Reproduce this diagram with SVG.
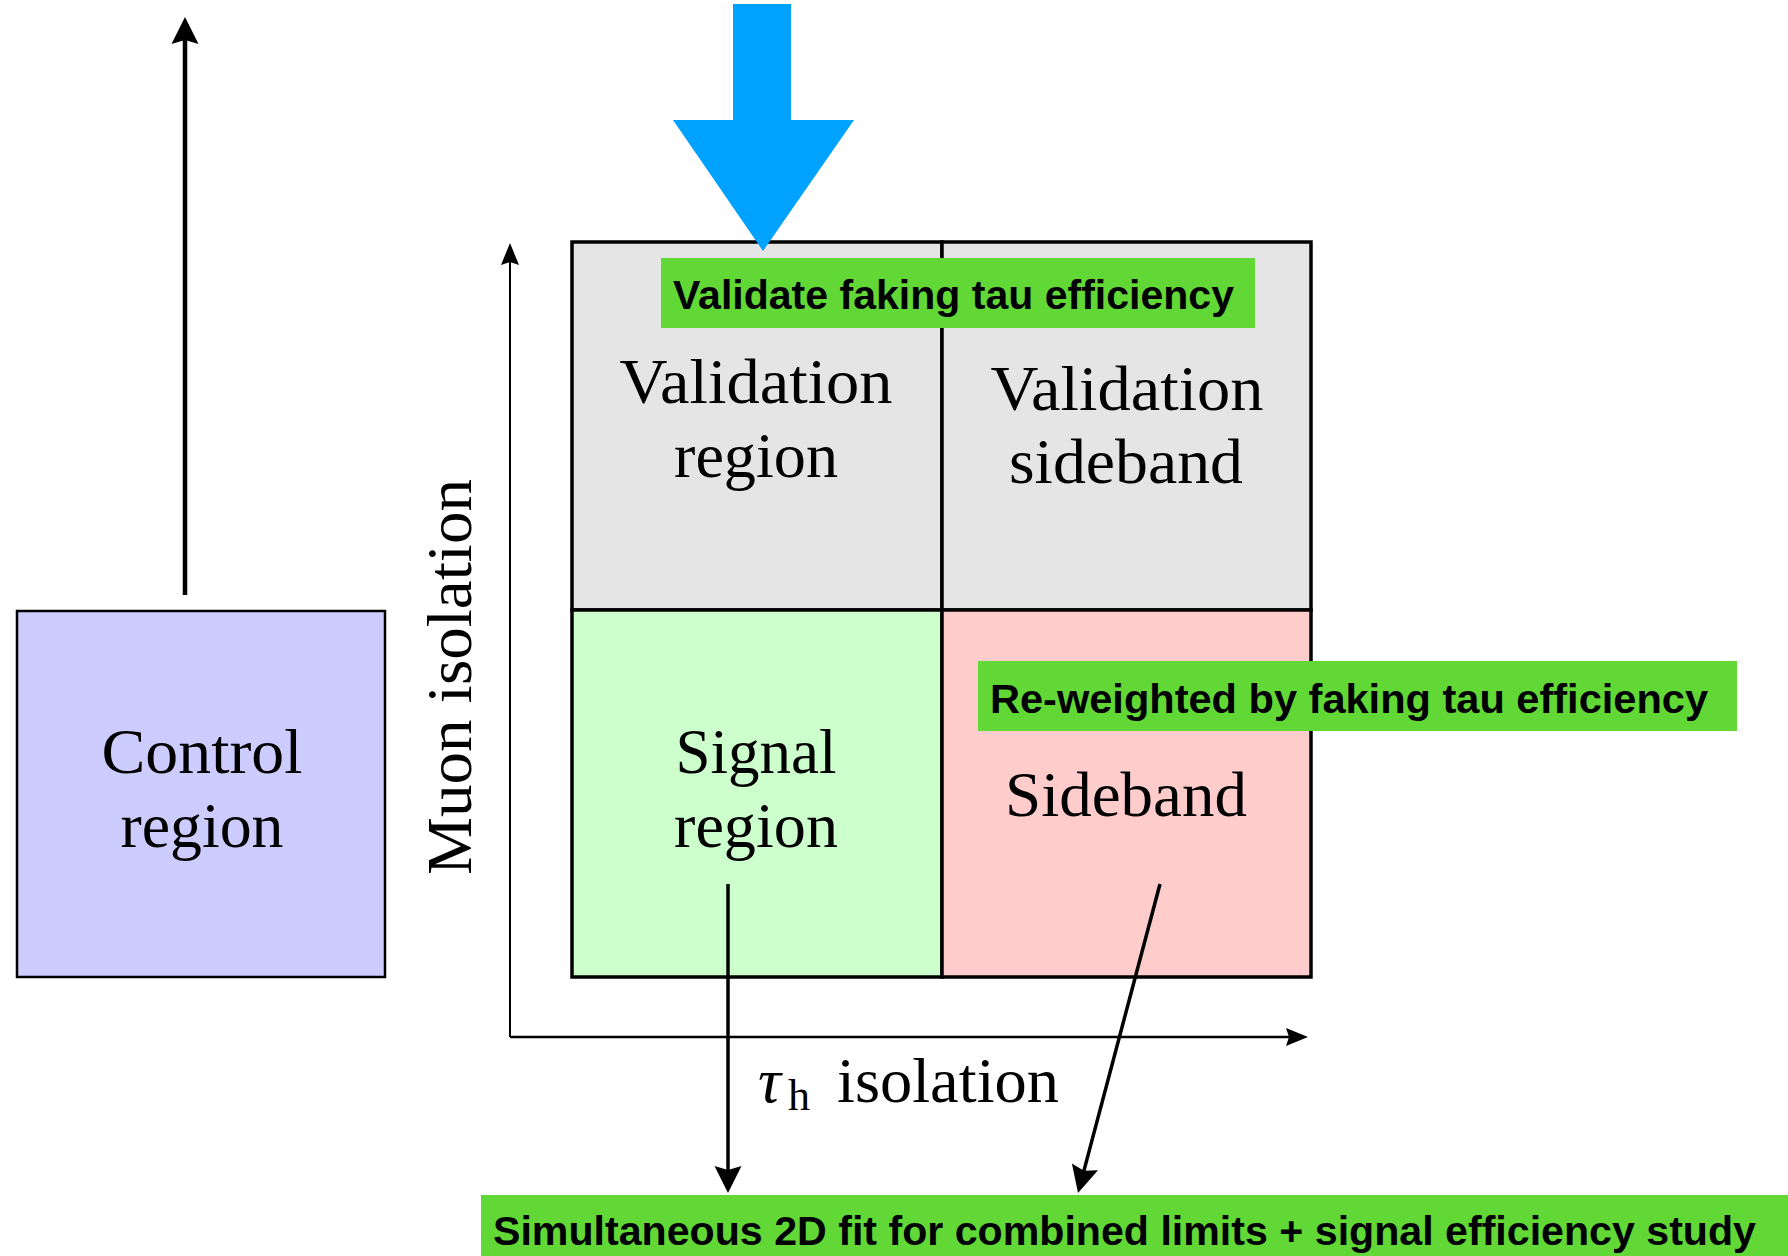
<svg xmlns="http://www.w3.org/2000/svg" width="1788" height="1256" viewBox="0 0 1788 1256">
<style>
.cell{stroke:#000;stroke-width:3.5}
.cm{font-family:"Liberation Serif","DejaVu Serif",serif;font-size:64px;fill:#000;text-anchor:middle}
.lbl{fill:#61d836}
.lt{font-family:"Liberation Sans",Arial,sans-serif;font-weight:bold;font-size:40px;fill:#000}
.conn{stroke:#000;fill:none}
</style>
<defs>
<marker id="ah" markerUnits="userSpaceOnUse" viewBox="-16 -15 30 30" refX="0" refY="0" markerWidth="30" markerHeight="30" orient="auto">
<path d="M12,0 L-15,-13.5 L-11,0 L-15,13.5 Z" fill="#000"/>
</marker>
<marker id="ax" markerUnits="userSpaceOnUse" viewBox="-14 -11 26 22" refX="0" refY="0" markerWidth="26" markerHeight="22" orient="auto">
<path d="M10,0 L-12,-9 L-9,0 L-12,9 Z" fill="#000"/>
</marker>
</defs>
<rect width="1788" height="1256" fill="#fff"/>

<g id="control-region">
<rect x="17" y="611" width="368" height="366" fill="#ccccff" stroke="#000" stroke-width="2.5"/>
<text class="cm" x="202" y="773" textLength="201" lengthAdjust="spacingAndGlyphs">Control</text>
<text class="cm" x="202" y="847" textLength="163" lengthAdjust="spacingAndGlyphs">region</text>
</g>

<g id="validation-region">
<rect class="cell" x="572" y="242" width="370" height="368" fill="#e5e5e5"/>
<text class="cm" x="756" y="403" textLength="273" lengthAdjust="spacingAndGlyphs">Validation</text>
<text class="cm" x="756" y="477" textLength="164" lengthAdjust="spacingAndGlyphs">region</text>
</g>
<g id="validation-sideband">
<rect class="cell" x="942" y="242" width="369" height="368" fill="#e5e5e5"/>
<text class="cm" x="1127" y="410" textLength="273" lengthAdjust="spacingAndGlyphs">Validation</text>
<text class="cm" x="1126" y="483" textLength="234" lengthAdjust="spacingAndGlyphs">sideband</text>
</g>
<g id="signal-region">
<rect class="cell" x="572" y="610" width="370" height="367" fill="#ccffcc"/>
<text class="cm" x="756" y="773" textLength="161" lengthAdjust="spacingAndGlyphs">Signal</text>
<text class="cm" x="756" y="847" textLength="164" lengthAdjust="spacingAndGlyphs">region</text>
</g>
<g id="sideband">
<rect class="cell" x="942" y="610" width="369" height="367" fill="#ffcccc"/>
</g>

<g id="axes">
<text class="cm" transform="translate(471,677) rotate(-90)" textLength="396" lengthAdjust="spacingAndGlyphs">Muon isolation</text>
<text x="758" y="1102" style="font-family:'Liberation Serif',serif;font-size:64px;font-style:italic">τ</text>
<text x="788" y="1110" style="font-family:'Liberation Serif',serif;font-size:44px">h</text>
<text x="837" y="1102" textLength="222" lengthAdjust="spacingAndGlyphs" style="font-family:'Liberation Serif',serif;font-size:64px">isolation</text>
</g>

<g id="connectors">
<line class="conn" x1="510" y1="1037" x2="510" y2="253" stroke-width="2" marker-end="url(#ax)"/>
<line class="conn" x1="510" y1="1037" x2="1298" y2="1037" stroke-width="2.5" marker-end="url(#ax)"/>
<line class="conn" x1="185" y1="595" x2="185" y2="29" stroke-width="4.5" marker-end="url(#ah)"/>
<line class="conn" x1="728" y1="884" x2="728" y2="1181" stroke-width="3.5" marker-end="url(#ah)"/>
<line class="conn" x1="1160" y1="884" x2="1081.1" y2="1181.4" stroke-width="3.5" marker-end="url(#ah)"/>
<polygon id="blue-arrow" points="733,4 791,4 791,120 854,120 763,251 673,120 733,120" fill="#00a2ff"/>
</g>

<g id="label-validate">
<rect class="lbl" x="661" y="258" width="594" height="70"/>
<text class="lt" x="673" y="309" textLength="561" lengthAdjust="spacingAndGlyphs">Validate faking tau efficiency</text>
</g>
<g id="label-reweighted">
<rect class="lbl" x="978" y="661" width="759" height="70"/>
<text class="lt" x="990" y="713" textLength="718" lengthAdjust="spacingAndGlyphs">Re-weighted by faking tau efficiency</text>
</g>
<g id="sideband-text">
<text class="cm" x="1126" y="816" textLength="242" lengthAdjust="spacingAndGlyphs">Sideband</text>
</g>
<g id="label-fit">
<rect class="lbl" x="481" y="1195" width="1307" height="61"/>
<text class="lt" x="493" y="1245" textLength="1263" lengthAdjust="spacingAndGlyphs">Simultaneous 2D fit for combined limits + signal efficiency study</text>
</g>
</svg>
